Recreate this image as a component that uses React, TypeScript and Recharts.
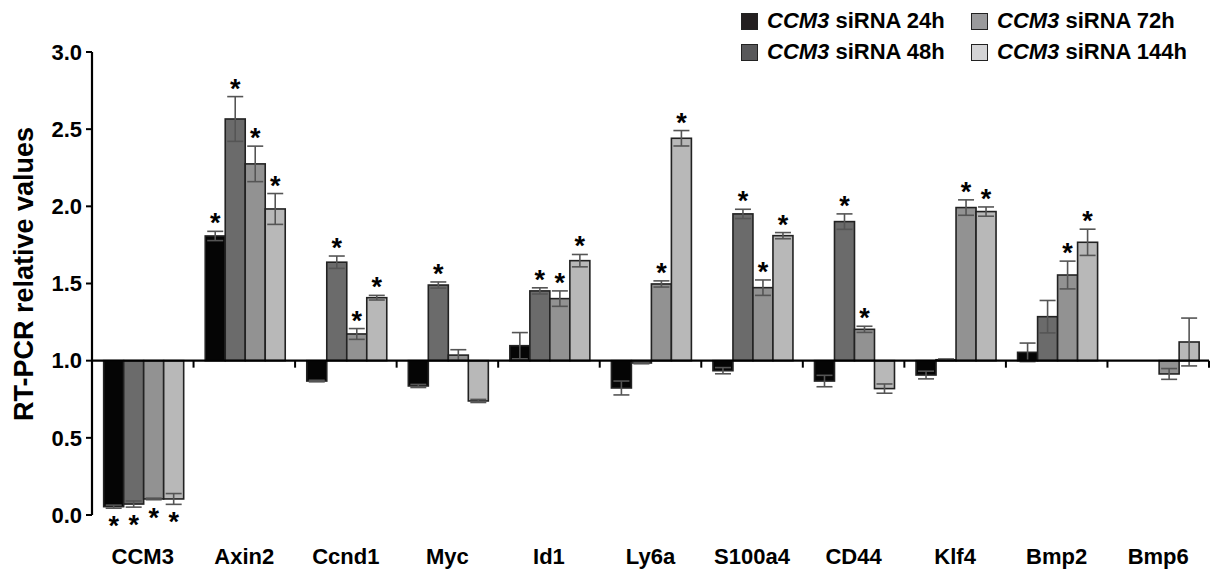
import { BarChart, Bar, XAxis, YAxis, ErrorBar, ReferenceLine } from 'recharts'

const categories = ['CCM3', 'Axin2', 'Ccnd1', 'Myc', 'Id1', 'Ly6a', 'S100a4', 'CD44', 'Klf4', 'Bmp2', 'Bmp6']

// relative values (baseline = 1.0)
const h24 = [0.054, 1.808, 0.868, 0.836, 1.097, 0.823, 0.935, 0.868, 0.907, 1.054, 1.0]
const h48 = [0.071, 2.566, 1.638, 1.49, 1.452, 0.985, 1.951, 1.901, 1.006, 1.285, 1.0]
const h72 = [0.104, 2.275, 1.173, 1.036, 1.402, 1.497, 1.473, 1.203, 1.992, 1.555, 0.914]
const h144 = [0.104, 1.983, 1.408, 0.739, 1.648, 2.441, 1.81, 0.819, 1.966, 1.767, 1.121]

const e24 = [0.01, 0.03, 0.005, 0.01, 0.085, 0.045, 0.02, 0.037, 0.025, 0.06, 0]
const e48 = [0.02, 0.145, 0.04, 0.02, 0.02, 0.005, 0.03, 0.05, 0.005, 0.105, 0]
const e72 = [0.005, 0.115, 0.035, 0.035, 0.05, 0.02, 0.05, 0.02, 0.05, 0.09, 0.035]
const e144 = [0.035, 0.1, 0.015, 0.01, 0.04, 0.05, 0.02, 0.03, 0.03, 0.085, 0.155]

// significance markers
const s24 = [1, 1, 0, 0, 0, 0, 0, 0, 0, 0, 0]
const s48 = [1, 1, 1, 1, 1, 0, 1, 1, 0, 0, 0]
const s72 = [1, 1, 1, 0, 1, 1, 1, 1, 1, 1, 0]
const s144 = [1, 1, 1, 0, 1, 1, 1, 0, 1, 1, 0]

const yTicks = [0, 0.5, 1.0, 1.5, 2.0, 2.5, 3.0]

const FONT = '"Liberation Sans", Arial, sans-serif'

const series = [
  { key: 'v24', err: 'e24', vals: h24, errs: e24, stars: s24, color: '#050505', legend: '#231f20', name: '24h' },
  { key: 'v48', err: 'e48', vals: h48, errs: e48, stars: s48, color: '#6b6b6b', legend: '#58585a', name: '48h' },
  { key: 'v72', err: 'e72', vals: h72, errs: e72, stars: s72, color: '#929292', legend: '#9a9a9c', name: '72h' },
  { key: 'v144', err: 'e144', vals: h144, errs: e144, stars: s144, color: '#b8b8b8', legend: '#d4d4d6', name: '144h' },
]

// bars are drawn from 1.0, so the table stores offsets from the baseline
const data = categories.map((c, i) => ({
  name: c,
  v24: h24[i] - 1, v48: h48[i] - 1, v72: h72[i] - 1, v144: h144[i] - 1,
  e24: e24[i], e48: e48[i], e72: e72[i], e144: e144[i],
}))

function makeShape(vals: number[], errs: number[], stars: number[]) {
  return (props: any) => {
    const { x, y, width, height, fill, index } = props
    const top = Math.min(y, y + height)
    const h = Math.abs(height)
    const v = vals[index] - 1
    let star = null
    if (stars[index] && Math.abs(v) > 0) {
      const ppu = h / Math.abs(v)
      const errPx = errs[index] * ppu
      const cx = x + width / 2
      const sy = v >= 0 ? top - errPx + 1 : top + h + errPx + 27
      star = (
        <text x={cx} y={sy} textAnchor="middle" fontSize={27} fontWeight="bold" fontFamily={FONT} fill="#000">
          *
        </text>
      )
    }
    return (
      <g>
        {h > 0 && <rect x={x} y={top} width={width} height={h} fill={fill} stroke="#222" strokeWidth={1.6} />}
        {star}
      </g>
    )
  }
}

const baseline = (props: any) => {
  const { x1, x2, y1 } = props
  const n = categories.length
  const step = (x2 - x1) / n
  return (
    <g>
      <line x1={x1} x2={x2} y1={y1} y2={y1} stroke="#000" strokeWidth={2.2} />
      {categories.map((_, i) => (
        <line key={i} x1={x1 + step * (i + 1)} x2={x1 + step * (i + 1)} y1={y1} y2={y1 + 7} stroke="#000" strokeWidth={2} />
      ))}
    </g>
  )
}

const CatTick = (props: any) => {
  const { x, y, payload } = props
  return (
    <text x={x} y={y + 41} textAnchor="middle" fontSize={22} fontWeight="bold" fontFamily={FONT} fill="#000">
      {payload.value}
    </text>
  )
}

function LegendBox() {
  const cols = [
    [series[0], series[1]],
    [series[2], series[3]],
  ]
  const lefts = [741, 971]
  return (
    <div style={{ position: 'absolute', left: 0, top: 0, width: 1217, height: 70, pointerEvents: 'none' }}>
      {cols.map((col, ci) =>
        col.map((s, ri) => (
          <div
            key={s.key}
            style={{
              position: 'absolute',
              left: lefts[ci],
              top: 9 + ri * 31,
              display: 'flex',
              alignItems: 'center',
              fontFamily: FONT,
              fontWeight: 'bold',
              fontSize: 22,
              lineHeight: '24px',
              whiteSpace: 'nowrap',
            }}
          >
            <span
              style={{
                display: 'inline-block',
                width: 15,
                height: 15,
                background: s.legend,
                border: '1.5px solid #222',
                marginRight: 9,
              }}
            />
            <span>
              <i>CCM3</i> siRNA {s.name}
            </span>
          </div>
        ))
      )}
    </div>
  )
}

export default function App() {
  return (
    <div style={{ position: 'absolute', left: 0, top: 0, width: 1217, height: 570, background: '#fff' }}>
      <BarChart
        width={1217}
        height={570}
        data={data}
        margin={{ top: 52, right: 8, bottom: 0, left: 0 }}
        barCategoryGap="11.5%"
        barGap={0}
      >
        <XAxis dataKey="name" axisLine={false} tickLine={false} tick={<CatTick />} height={55} interval={0} />
        <YAxis
          width={92}
          domain={[-1, 2]}
          ticks={yTicks.map((t) => t - 1)}
          tickFormatter={(t: number) => (t + 1).toFixed(1)}
          axisLine={{ stroke: '#000', strokeWidth: 2.2 }}
          tickLine={{ stroke: '#000', strokeWidth: 2 }}
          tickSize={6}
          tickMargin={4}
          tick={{ fontSize: 22, fontWeight: 'bold', fontFamily: FONT, fill: '#000' }}
          label={{
            content: () => (
              <text
                x={0}
                y={0}
                transform="translate(33 274) rotate(-90)"
                textAnchor="middle"
                fontSize={27}
                fontWeight="bold"
                fontFamily={FONT}
                fill="#000"
              >
                RT-PCR relative values
              </text>
            ),
          }}
        />
        {series.map((s) => (
          <Bar key={s.key} dataKey={s.key} fill={s.color} isAnimationActive={false} shape={makeShape(s.vals, s.errs, s.stars)}>
            <ErrorBar dataKey={s.err} width={8} stroke="#555" strokeWidth={1.6} direction="y" />
          </Bar>
        ))}
        <ReferenceLine y={0} shape={baseline} />
      </BarChart>
      <LegendBox />
    </div>
  )
}
